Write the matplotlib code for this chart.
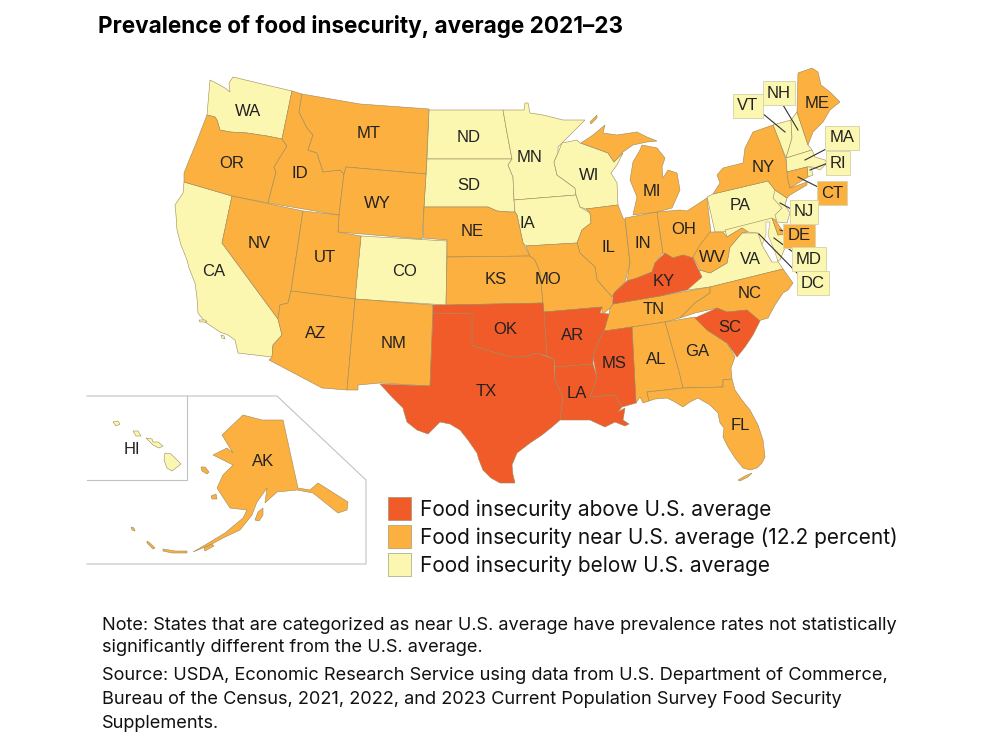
import matplotlib
matplotlib.use("Agg")
import matplotlib.pyplot as plt
from matplotlib.patches import Polygon, Rectangle

# state outlines (x, y in image pixels)
WA = [(210,80),(216,83),(225,88),(230,92),(229,83),(233,77),(262,84),(292,91),(282,139),(267,136),(247,133),(230,132),(220,130),(217,120),(215,117),(207,115)]
OR = [(207,115),(215,117),(217,120),(220,130),(230,132),(247,133),(267,136),(282,139),(287,146),(274,167),(276,172),(268,203),(232,196),(184,182),(184,173),(190,158),(195,146),(200,133)]
ID = [(292,91),(302,94),(299,112),(307,128),(313,135),(308,150),(317,153),(323,172),(340,170),(344,174),(339,215),(268,203),(276,172),(274,167),(287,146),(282,139)]
MT = [(302,94),(360,104),(429,109),(426,174),(346,167),(344,174),(340,170),(323,172),(317,153),(308,150),(313,135),(307,128),(299,112)]
WY = [(346,167),(426,174),(422,239),(338,232),(339,215),(344,174)]
NV = [(232,196),(303,211),(291,291),(288,303),(280,305),(278,319),(222,243)]
CA = [(184,182),(232,196),(222,243),(278,319),(282,335),(273,345),(272,357),(238,353),(235,340),(228,335),(220,332),(205,322),(198,313),(197,298),(195,283),(189,268),(187,260),(181,245),(177,230),(176,215),(175,205),(183,193)]
CA_ISLE1 = [(199,320),(205,320),(207,322),(200,322)]
CA_ISLE2 = [(221,335),(224,336),(225,339),(222,338)]
UT = [(303,211),(339,215),(338,232),(361,236),(355,299),(291,291)]
CO = [(361,236),(447,241),(446,305),(355,299)]
AZ = [(291,291),(355,299),(347,390),(322,388),(269,360),(272,357),(273,345),(282,335),(278,319),(280,305),(288,303)]
NM = [(355,299),(433,305),(430,386),(380,383),(358,385),(358,390),(347,390)]
ND = [(429,110),(503,110),(507,133),(512,159),(427,159)]
SD = [(427,159),(512,159),(508,165),(513,177),(514,200),(515,212),(510,212),(497,211),(488,207),(424,207)]
NE = [(424,207),(488,207),(497,211),(510,212),(515,212),(517,215),(523,243),(530,256),(447,257),(447,240),(423,238)]
KS = [(447,257),(530,256),(535,260),(540,272),(543,303),(446,305)]
MN = [(503,110),(524,110),(525,103),(528,103),(530,113),(543,115),(563,120),(585,120),(562,143),(558,147),(558,153),(554,162),(557,175),(575,188),(576,195),(514,200),(513,177),(508,165),(512,159),(507,133)]
IA = [(514,200),(576,195),(580,207),(590,213),(591,223),(582,230),(577,243),(526,246),(523,243),(517,215),(515,212)]
WI = [(562,143),(577,140),(580,143),(600,150),(608,153),(614,162),(623,153),(617,165),(611,173),(617,183),(618,205),(586,209),(580,207),(576,195),(575,188),(557,175),(554,162),(558,153)]
IL = [(586,209),(618,205),(623,218),(625,220),(630,263),(625,282),(615,292),(612,297),(597,280),(595,267),(580,253),(577,243),(582,230),(591,223),(590,213)]
IN = [(625,218),(657,212),(663,253),(655,263),(652,272),(637,278),(627,281),(630,263)]
OH = [(657,212),(680,210),(687,211),(707,198),(711,233),(702,247),(693,258),(683,255),(673,258),(663,253)]
MI = [(633,215),(657,212),(672,208),(680,190),(677,173),(668,170),(663,178),(662,167),(665,158),(657,148),(642,145),(640,150),(633,162),(630,180),(637,197)]
MI_UP = [(581,143),(593,135),(605,125),(603,133),(617,135),(637,132),(647,137),(657,141),(647,142),(633,145),(623,152),(614,162),(608,153),(600,150)]
MI_ROYALE = [(590,122),(597,115),(597,118),(591,124)]
KY = [(613,304),(613,295),(615,292),(627,281),(637,278),(652,272),(655,263),(665,253),(673,258),(683,255),(693,258),(702,277),(687,290),(660,296)]
TN = [(610,308),(613,304),(660,296),(710,287),(710,293),(695,303),(680,318),(665,322),(632,327),(604,331),(609,314)]
VA = [(687,290),(700,270),(710,273),(727,263),(730,247),(742,233),(748,233),(758,233),(775,257),(783,269),(710,287)]
WV = [(700,245),(710,232),(715,232),(723,232),(727,237),(742,228),(748,232),(742,233),(730,247),(727,263),(710,273),(700,270),(693,257)]
PA = [(707,197),(713,194),(768,181),(775,190),(787,198),(780,218),(775,220),(723,232),(715,232)]
NY = [(713,194),(720,183),(717,175),(723,168),(743,163),(745,148),(753,132),(773,125),(780,143),(786,160),(787,172),(788,180),(790,188),(807,182),(807,185),(790,195),(787,198),(775,190),(768,181)]
VT = [(773,125),(791,120),(792,138),(786,158),(780,143)]
NH = [(791,120),(797,112),(808,145),(812,150),(786,158),(792,138)]
ME = [(797,112),(798,73),(812,68),(818,72),(821,85),(830,92),(840,102),(830,110),(823,122),(813,132),(808,145)]
MA = [(786,158),(812,150),(815,157),(825,160),(827,163),(820,170),(813,167),(807,167),(787,172)]
RI = [(807,167),(811,167),(813,175),(808,177)]
CT = [(787,172),(807,167),(808,177),(790,188),(788,180)]
NJ = [(775,190),(787,198),(785,205),(790,213),(787,223),(777,222),(775,215),(782,208),(773,198)]
MD = [(725,230),(772,218),(778,235),(785,234),(787,243),(780,260),(772,262),(762,245),(758,233),(748,232),(742,228),(727,237)]
DE = [(772,218),(775,220),(785,234),(778,235)]
BAY = [(766,222),(770,222),(768,235),(775,252),(778,262),(772,262),(762,245),(766,235)]
NC = [(710,287),(783,269),(793,283),(788,290),(783,293),(775,305),(768,318),(758,321),(747,310),(727,312),(717,308),(695,313),(680,318),(695,303),(710,293)]
SC = [(695,318),(717,308),(727,312),(747,310),(760,321),(753,335),(745,347),(737,357),(727,343),(707,330)]
GA = [(665,322),(695,317),(707,330),(727,343),(735,357),(731,368),(732,379),(723,380),(723,387),(683,388),(678,368)]
AL = [(632,327),(665,322),(678,368),(683,388),(647,392),(649,401),(643,403),(640,397),(636,403)]
FL = [(647,392),(683,388),(723,387),(723,380),(732,379),(735,390),(742,400),(750,410),(758,425),(763,440),(765,457),(762,463),(757,468),(750,470),(743,468),(735,458),(728,447),(723,437),(724,428),(720,423),(718,413),(710,405),(698,398),(690,402),(683,407),(675,402),(667,398),(655,399),(649,401)]
FL_KEYS = [(738,480),(745,476),(752,473),(748,477),(740,481)]
MS = [(604,331),(632,327),(636,403),(622,407),(615,395),(590,397),(597,377),(593,357),(600,338)]
LA = [(555,367),(593,364),(597,377),(590,397),(615,395),(622,407),(618,412),(625,408),(623,420),(629,424),(625,426),(615,422),(605,427),(590,420),(570,420),(560,420),(563,397),(555,380)]
AR = [(544,312),(602,307),(600,313),(609,314),(604,331),(600,338),(593,357),(593,364),(555,367),(554,359),(547,356)]
MO = [(526,246),(577,243),(580,253),(595,267),(597,280),(612,297),(613,304),(610,308),(602,315),(602,307),(544,312),(543,303),(540,272),(535,260),(530,256)]
OK = [(433,305),(446,305),(543,303),(544,312),(547,356),(537,353),(523,357),(510,357),(483,349),(472,345),(472,314),(433,313)]
TX = [(433,313),(472,314),(472,345),(483,349),(510,357),(523,357),(537,353),(554,359),(555,380),(563,397),(560,420),(552,427),(542,435),(530,443),(517,453),(512,465),(513,475),(515,483),(507,483),(500,483),(491,478),(483,470),(479,460),(477,453),(468,440),(460,430),(450,424),(440,422),(434,428),(428,434),(417,430),(407,422),(404,412),(403,408),(392,397),(380,384),(430,386)]
AK = [(283,420),(298,488),(310,490),(318,483),(348,502),(347,510),(338,513),(313,493),(297,490),(277,492),(265,503),(267,488),(257,502),(252,515),(240,530),(225,537),(210,545),(193,552),(205,545),(225,533),(243,518),(247,510),(230,508),(217,488),(223,475),(233,465),(213,455),(227,448),(233,453),(222,435),(243,415),(262,420)]
AK_KODIAK = [(255,520),(258,512),(263,508),(263,515),(259,521)]
AK_NUNIVAK = [(211,496),(216,494),(217,499),(212,499)]
AK_LAWRENCE = [(201,467),(205,467),(209,472),(207,474),(202,471)]
AK_ALEUT1 = [(163,549),(175,551),(187,551),(187,553),(172,553),(163,551)]
AK_ALEUT2 = [(147,541),(150,543),(155,548),(153,549),(147,543)]
AK_ALEUT3 = [(204,548),(212,544),(214,546),(205,551)]
AK_ALEUT4 = [(131,527),(134,528),(135,531),(132,530)]
HI_BIG = [(165,453),(171,454),(181,464),(172,471),(167,468),(164,460)]
HI_MAUI = [(146,438),(152,439),(153,442),(158,442),(163,446),(159,448),(153,445)]
HI_OAHU = [(133,431),(138,431),(141,436),(136,436)]
HI_KAUAI = [(113,422),(118,421),(120,424),(116,426)]

above = [KY, OK, AR, MS, LA, TX, SC]
near = [OR, ID, MT, WY, NV, UT, AZ, NM, NE, KS, IL, IN, OH, MI, MI_UP, MI_ROYALE, TN, WV, NY, ME, CT, NC, GA, AL, FL, FL_KEYS, MO,
        AK, AK_KODIAK, AK_NUNIVAK, AK_LAWRENCE, AK_ALEUT1, AK_ALEUT2, AK_ALEUT3, AK_ALEUT4]
below = [WA, CA, CA_ISLE1, CA_ISLE2, CO, ND, SD, MN, IA, WI, VA, PA, VT, NH, MA, RI, NJ, MD,
         HI_BIG, HI_MAUI, HI_OAHU, HI_KAUAI]

map_labels = ["WA","OR","CA","ID","NV","MT","WY","UT","AZ","CO","NM","ND","SD","NE","KS","OK","TX",
              "MN","IA","MO","AR","LA","WI","IL","MS","MI","IN","KY","TN","AL","OH","WV","VA","NC","SC","GA","FL","PA","NY","ME","AK","HI"]
map_x = [248,232,214,300,259,369,377,325,316,405,394,469,469,472,496,505,486,530,527,548,573,577,589,608,614,652,643,664,654,656,684,712,750,750,730,697,740,740,763,817,263,132]
map_y = [111,163,271,173,244,133,204,257,334,271,344,137,185,231,280,330,391,158,223,279,336,394,176,248,364,191,244,281,310,359,229,257,260,294,328,352,425,206,167,103,461,450]

box_labels = ["VT","NH","MA","RI","CT","NJ","DE","MD","DC"]
box_x = [748,779,842,838,832,804,799,809,813]
box_y = [106,93,138,163,193,212,236,259,283]
box_above = ["CT","DE"]
leader_from = [(762,113),(783,105),(828,148),(828,163),(820,188),(793,210),(787,232),(797,255),(802,278)]
leader_to = [(785,132),(798,130),(805,160),(810,170),(798,177),(780,203),(780,230),(774,238),(759,234)]

legend_labels = ["Food insecurity above U.S. average",
                 "Food insecurity near U.S. average (12.2 percent)",
                 "Food insecurity below U.S. average"]
note_lines = ["Note: States that are categorized as near U.S. average have prevalence rates not statistically",
              "significantly different from the U.S. average.",
              "Source: USDA, Economic Research Service using data from U.S. Department of Commerce,",
              "Bureau of the Census, 2021, 2022, and 2023 Current Population Survey Food Security",
              "Supplements."]
note_y = [625,648,676,700,724]

c_above = "#f15a29"
c_near = "#fbb040"
c_below = "#fbf6b0"
edge = "#9c8a5c"

fig = plt.figure(figsize=(10, 7.5), dpi=100)
ax = fig.add_axes([0, 0, 1, 1])
ax.set_xlim(0, 1000)
ax.set_ylim(750, 0)
ax.axis("off")

for shapes, col in [(below, c_below), (near, c_near), (above, c_above)]:
    for s in shapes:
        ax.add_patch(Polygon(s, closed=True, fc=col, ec=edge, lw=0.4))
ax.add_patch(Polygon(BAY, closed=True, fc="white", ec=edge, lw=0.3))
ax.add_patch(Polygon(DE, closed=True, fc=c_near, ec=edge, lw=0.4))

# inset frames
ax.plot([87,277,366,366,87], [396,396,480,564,564], color="#c2c2c2", lw=0.8)
ax.plot([187,187,87], [396,480,480], color="#c2c2c2", lw=0.8)

for t, x, y in zip(map_labels, map_x, map_y):
    ax.text(x, y, t, fontsize=12, family="Liberation Sans", color="#222222", ha="center", va="center")

for a, b in zip(leader_from, leader_to):
    ax.plot([a[0], b[0]], [a[1], b[1]], color="#333333", lw=0.8)
for t, x, y in zip(box_labels, box_x, box_y):
    col = c_near if t in box_above else c_below
    ax.text(x, y, t, fontsize=12, family="Liberation Sans", color="#222222", ha="center", va="center", zorder=5,
            bbox=dict(boxstyle="square,pad=0.25", fc=col, ec="#d8d6ae", lw=0.7))

ax.text(98, 26, "Prevalence of food insecurity, average 2021–23", fontsize=16.2, fontweight="bold",
        family="Inter", color="black", ha="left", va="center")

for i, (t, col) in enumerate(zip(legend_labels, [c_above, c_near, c_below])):
    ax.add_patch(Rectangle((388, 497 + 28 * i), 23, 23, fc=col, ec="#8a8a6a", lw=0.4))
    ax.text(420, 510 + 28 * i, t, fontsize=15, family="Inter", color="#111111", ha="left", va="center")

for t, y in zip(note_lines, note_y):
    ax.text(102, y, t, fontsize=13.1, family="Inter", color="#111111", ha="left", va="center")

fig.savefig("out.png", dpi=100)
